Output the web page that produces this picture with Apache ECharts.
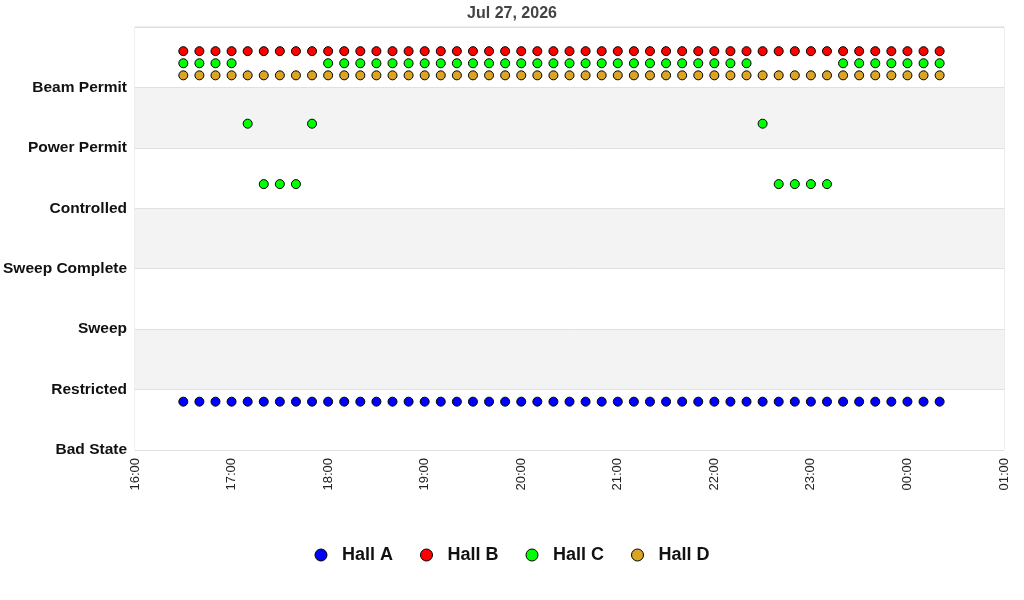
<!DOCTYPE html>
<html>
<head>
<meta charset="utf-8">
<title>Hall states</title>
<script src="https://cdn.jsdelivr.net/npm/echarts@6/dist/echarts.min.js"></script>
<style>
  html, body { margin: 0; padding: 0; background: #fff; }
  #chart { width: 1024px; height: 600px; }
</style>
</head>
<body>
<div id="chart"></div>
<script>
// y tick labels, bottom to top
const states = ['Bad State', 'Restricted', 'Sweep', 'Sweep Complete', 'Controlled', 'Power Permit', 'Beam Permit'];

const halls = ['Hall A', 'Hall B', 'Hall C', 'Hall D'];

// sample times (Jul 27 16:30 .. Jul 28 00:20)
const times = [
  '16:30', '16:40', '16:50', '17:00', '17:10', '17:20', '17:30', '17:40', '17:50',
  '18:00', '18:10', '18:20', '18:30', '18:40', '18:50',
  '19:00', '19:10', '19:20', '19:30', '19:40', '19:50',
  '20:00', '20:10', '20:20', '20:30', '20:40', '20:50',
  '21:00', '21:10', '21:20', '21:30', '21:40', '21:50',
  '22:00', '22:10', '22:20', '22:30', '22:40', '22:50',
  '23:00', '23:10', '23:20', '23:30', '23:40', '23:50',
  '00:00', '00:10', '00:20'
];

// state index per sample
const hallA = [
  1, 1, 1, 1, 1, 1, 1, 1, 1,
  1, 1, 1, 1, 1, 1,
  1, 1, 1, 1, 1, 1,
  1, 1, 1, 1, 1, 1,
  1, 1, 1, 1, 1, 1,
  1, 1, 1, 1, 1, 1,
  1, 1, 1, 1, 1, 1,
  1, 1, 1
];
const hallB = [
  6, 6, 6, 6, 6, 6, 6, 6, 6,
  6, 6, 6, 6, 6, 6,
  6, 6, 6, 6, 6, 6,
  6, 6, 6, 6, 6, 6,
  6, 6, 6, 6, 6, 6,
  6, 6, 6, 6, 6, 6,
  6, 6, 6, 6, 6, 6,
  6, 6, 6
];
const hallC = [
  6, 6, 6, 6, 5, 4, 4, 4, 5,
  6, 6, 6, 6, 6, 6,
  6, 6, 6, 6, 6, 6,
  6, 6, 6, 6, 6, 6,
  6, 6, 6, 6, 6, 6,
  6, 6, 6, 5, 4, 4,
  4, 4, 6, 6, 6, 6,
  6, 6, 6
];
const hallD = [
  6, 6, 6, 6, 6, 6, 6, 6, 6,
  6, 6, 6, 6, 6, 6,
  6, 6, 6, 6, 6, 6,
  6, 6, 6, 6, 6, 6,
  6, 6, 6, 6, 6, 6,
  6, 6, 6, 6, 6, 6,
  6, 6, 6, 6, 6, 6,
  6, 6, 6
];

const hallColors = ['#0000ff', '#ff0000', '#00ff00', '#daa520'];
// vertical offset of each hall inside a state band
const hallOffset = [-0.2, 0.6, 0.4, 0.2];

const HOUR = 3600 * 1000;
const startMs = new Date(2026, 6, 27, 16, 0).getTime();
const endMs = new Date(2026, 6, 28, 1, 0).getTime();

// times after midnight belong to the next day
function toMs(t) {
  const [h, m] = t.split(':').map(Number);
  const day = h < 12 ? 28 : 27;
  return new Date(2026, 6, day, h, m).getTime();
}

function pad(n) {
  return (n < 10 ? '0' : '') + n;
}

const hallData = [hallA, hallB, hallC, hallD];

const series = halls.map((name, i) => ({
  name: name,
  type: 'scatter',
  symbol: 'circle',
  symbolSize: 9,
  itemStyle: {
    color: hallColors[i],
    borderColor: '#000',
    borderWidth: 1,
    opacity: 1
  },
  emphasis: { disabled: true },
  data: times.map((t, k) => [toMs(t), hallData[i][k] + hallOffset[i]])
}));

const chart = echarts.init(document.getElementById('chart'));

const option = {
  animation: false,
  textStyle: { fontFamily: 'Liberation Sans, Arial, sans-serif' },
  title: {
    text: 'Jul 27, 2026',
    left: 'center',
    top: 1,
    textStyle: {
      fontSize: 16,
      fontWeight: 'bold',
      color: '#444'
    }
  },
  legend: {
    data: halls,
    bottom: 31,
    left: 'center',
    icon: 'circle',
    itemWidth: 12,
    itemHeight: 12,
    itemGap: 27,
    itemStyle: { borderColor: '#000', borderWidth: 1 },
    textStyle: {
      fontSize: 18,
      fontWeight: 'bold',
      color: '#111',
      padding: [0, 0, 0, 10]
    }
  },
  grid: {
    left: 135,
    right: 20,
    top: 27,
    bottom: 150,
    show: true,
    borderColor: '#dcdcdc',
    borderWidth: 1,
    backgroundColor: 'transparent'
  },
  xAxis: {
    type: 'value',
    min: startMs,
    max: endMs,
    interval: HOUR,
    axisLine: { show: false },
    axisTick: { show: false },
    splitLine: { show: false },
    axisLabel: {
      rotate: 90,
      margin: 8,
      fontSize: 13,
      color: '#222',
      formatter: v => {
        const d = new Date(v);
        return pad(d.getHours()) + ':' + pad(d.getMinutes());
      }
    }
  },
  yAxis: {
    type: 'value',
    min: 0,
    max: 7,
    interval: 1,
    axisLine: { show: false },
    axisTick: { show: false },
    splitLine: { show: true, lineStyle: { color: '#e0e0e0', width: 1 } },
    splitArea: { show: true, areaStyle: { color: ['#ffffff', '#f3f3f3'] } },
    axisLabel: {
      margin: 8,
      fontSize: 15.5,
      fontWeight: 'bold',
      color: '#111',
      padding: [7, 0, 0, 0],
      formatter: v => states[v] || ''
    }
  },
  series: series
};

chart.setOption(option);
</script>
</body>
</html>
